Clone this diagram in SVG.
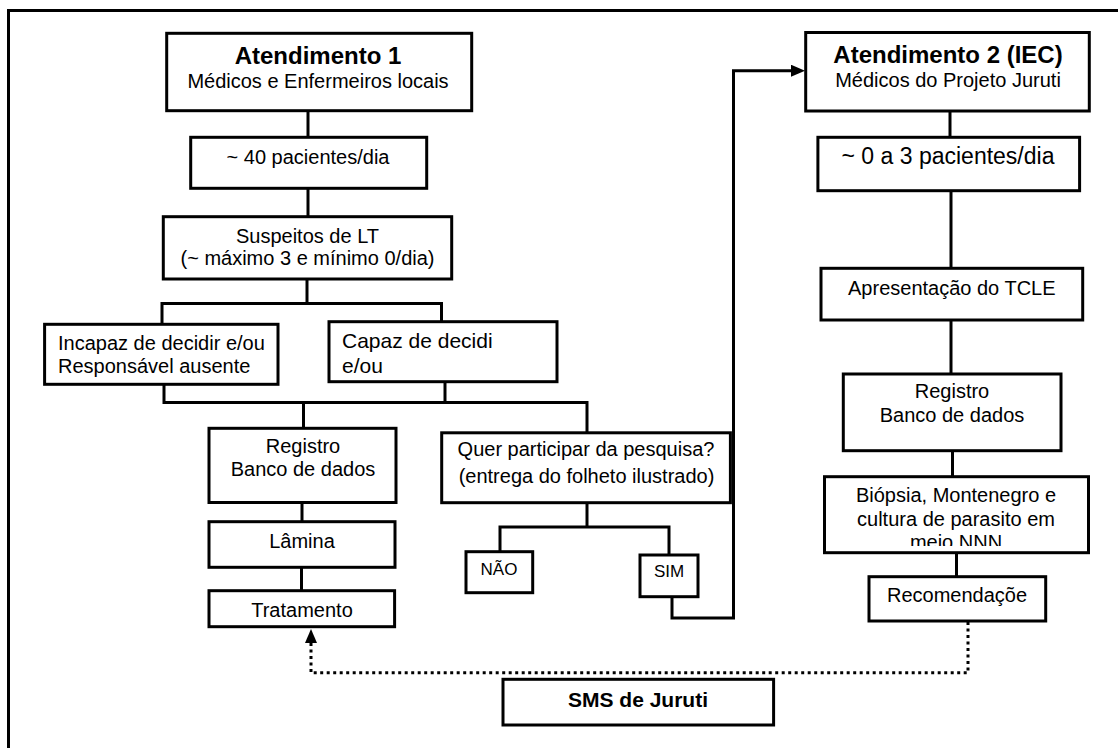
<svg xmlns="http://www.w3.org/2000/svg" width="1118" height="748" viewBox="0 0 1118 748">
<style>
.box{fill:#fff;stroke:#000;stroke-width:3}
.ln{fill:none;stroke:#000;stroke-width:3}
.dot{fill:none;stroke:#000;stroke-width:3;stroke-dasharray:3 3.5}
text{font-family:"Liberation Sans",Arial,sans-serif;font-size:20px;fill:#000}
.c{text-anchor:middle}
.b{font-weight:bold;font-size:24px}
.s{font-size:17px}
</style>
<defs>
<marker id="ah" viewBox="0 0 14 12" refX="9" refY="6" markerWidth="14" markerHeight="12" markerUnits="userSpaceOnUse" orient="auto">
<path d="M0,0 L14,6 L0,12 z" fill="#000"/>
</marker>
<clipPath id="bclip"><rect x="826" y="478" width="261" height="68"/></clipPath>
</defs>
<rect x="0" y="0" width="1118" height="748" fill="#fff"/>
<path class="ln" d="M8.5 748 V10.5 H1118"/>
<g id="connectors">
<path class="ln" d="M308 111 V137"/>
<path class="ln" d="M308 188.5 V217"/>
<path class="ln" d="M307 279 V303.5"/>
<path class="ln" d="M162 324 V303.5 H441.5 V322"/>
<path class="ln" d="M164 384 V402.5 H587 V433"/>
<path class="ln" d="M445 382 V402.5"/>
<path class="ln" d="M303.5 402.5 V428"/>
<path class="ln" d="M302 502.5 V522"/>
<path class="ln" d="M301.5 567 V591"/>
<path class="ln" d="M587 502.5 V527"/>
<path class="ln" d="M500 552 V527 H669 V555"/>
<path class="ln" d="M672 597 V618 H733.5 V70.7 H800" marker-end="url(#ah)"/>
<path class="ln" d="M950 111 V137.5"/>
<path class="ln" d="M951 190.5 V268.5"/>
<path class="ln" d="M951 320 V374"/>
<path class="ln" d="M952.5 450.5 V477"/>
<path class="ln" d="M956.5 552.5 V577"/>
<path class="dot" d="M968 622 V672.7 H311 V634" marker-end="url(#ah)"/>
</g>
<g id="atendimento1">
<rect class="box" x="166.7" y="33.3" width="305" height="77.4"/>
<text class="c b" x="318" y="63.5">Atendimento 1</text>
<text class="c" x="318" y="87.5">Médicos e Enfermeiros locais</text>
</g>
<g id="pacientes40">
<rect class="box" x="190.7" y="137.3" width="236" height="51"/>
<text class="c" x="308" y="164">~ 40 pacientes/dia</text>
</g>
<g id="suspeitos">
<rect class="box" x="163.3" y="216.7" width="288.4" height="62.3"/>
<text class="c" x="307.5" y="242.7">Suspeitos de LT</text>
<text class="c" x="307.5" y="265">(~ máximo 3 e mínimo 0/dia)</text>
</g>
<g id="incapaz">
<rect class="box" x="44.6" y="324.3" width="233.4" height="60"/>
<text x="58" y="350">Incapaz de decidir e/ou</text>
<text x="58" y="372.7">Responsável ausente</text>
</g>
<g id="capaz">
<rect class="box" x="329" y="321.7" width="228" height="60"/>
<text x="342" y="348.3" style="font-size:21px">Capaz de decidi</text>
<text x="342" y="372.7" style="font-size:21px">e/ou</text>
</g>
<g id="registro1">
<rect class="box" x="209" y="428.3" width="187" height="74.2"/>
<text class="c" x="303" y="453.3">Registro</text>
<text class="c" x="303" y="476">Banco de dados</text>
</g>
<g id="lamina">
<rect class="box" x="209" y="521.7" width="186" height="45.6"/>
<text class="c" x="302" y="548.3">Lâmina</text>
</g>
<g id="tratamento">
<rect class="box" x="209" y="590.7" width="185.6" height="36"/>
<text class="c" x="302" y="616.7">Tratamento</text>
</g>
<g id="quer">
<rect class="box" x="441.7" y="432.8" width="288.7" height="69.9"/>
<text class="c" x="586" y="456">Quer participar da pesquisa?</text>
<text class="c" x="586.5" y="483">(entrega do folheto ilustrado)</text>
</g>
<g id="nao">
<rect class="box" x="466" y="551.7" width="66.7" height="41"/>
<text class="c s" x="499" y="575">NÃO</text>
</g>
<g id="sim">
<rect class="box" x="640" y="555" width="58" height="41.7"/>
<text class="c s" x="669" y="577">SIM</text>
</g>
<g id="sms">
<rect class="box" x="503" y="679.3" width="270.6" height="45.7"/>
<text class="c b" x="638" y="707" style="font-size:21px">SMS de Juruti</text>
</g>
<g id="atendimento2">
<rect class="box" x="805.7" y="32.5" width="283.6" height="78.5"/>
<text class="c b" x="948" y="63.3">Atendimento 2 (IEC)</text>
<text class="c" x="948" y="87.3">Médicos do Projeto Juruti</text>
</g>
<g id="pacientes03">
<rect class="box" x="817.9" y="137.3" width="261.7" height="53.4"/>
<text class="c" x="948" y="163.5" style="font-size:23px">~ 0 a 3 pacientes/dia</text>
</g>
<g id="tcle">
<rect class="box" x="821" y="268.3" width="261.7" height="51.7"/>
<text class="c" x="951.8" y="295">Apresentação do TCLE</text>
</g>
<g id="registro2">
<rect class="box" x="843.3" y="374" width="217.7" height="76.7"/>
<text class="c" x="952" y="398.3">Registro</text>
<text class="c" x="952" y="422.3">Banco de dados</text>
</g>
<g id="biopsia">
<rect class="box" x="824.5" y="476.7" width="264" height="76"/>
<g clip-path="url(#bclip)">
<text class="c" x="956" y="502">Biópsia, Montenegro e</text>
<text class="c" x="956" y="525.5">cultura de parasito em</text>
<text class="c" x="956" y="549">meio NNN</text>
</g>
</g>
<g id="recomendacao">
<rect class="box" x="869" y="576.7" width="176.7" height="44.3"/>
<text class="c" x="957" y="601.7">Recomendaçõe</text>
</g>
</svg>
